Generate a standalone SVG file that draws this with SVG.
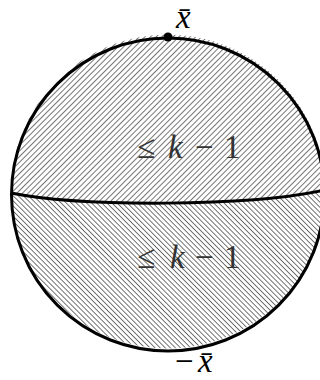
<svg xmlns="http://www.w3.org/2000/svg" width="320" height="380" viewBox="0 0 320 380">
<style>
.lbl{font-family:"Liberation Serif","Times New Roman",serif;font-size:33px;fill:#333}
.it{font-style:italic}
.edge{fill:none;stroke:#000;stroke-width:3}
</style>
<defs>
<pattern id="hatchUp" width="4" height="4" patternUnits="userSpaceOnUse" patternTransform="rotate(45)">
<line x1="0" y1="0" x2="0" y2="4" stroke="#3a3a3a" stroke-width="1.4"/>
</pattern>
<pattern id="hatchDown" width="3.6" height="3.6" patternUnits="userSpaceOnUse" patternTransform="rotate(-45)">
<line x1="0" y1="0" x2="0" y2="3.6" stroke="#3a3a3a" stroke-width="1.4"/>
</pattern>
</defs>
<rect width="320" height="380" fill="#fff"/>
<g id="upper">
<path d="M 11 193 C 80 207, 250 207, 325 190 A 156.5 156.5 0 0 0 11 193 Z" fill="url(#hatchUp)"/>
<text class="lbl" y="158"><tspan x="137">≤</tspan><tspan class="it" x="168">k</tspan><tspan x="195">−</tspan><tspan x="224">1</tspan></text>
</g>
<g id="lower">
<path d="M 11 193 C 80 207, 250 207, 325 190 A 156.5 156.5 0 1 1 11 193 Z" fill="url(#hatchDown)"/>
<text class="lbl" y="268"><tspan x="137">≤</tspan><tspan class="it" x="170">k</tspan><tspan x="195">−</tspan><tspan x="224">1</tspan></text>
</g>
<g id="connectors">
<circle class="edge" cx="168" cy="194.5" r="156.5"/>
<path class="edge" d="M 11 193 C 80 207, 250 207, 325 190"/>
</g>
<g id="north">
<circle cx="168" cy="37" r="4.5" fill="#000"/>
<text class="lbl it" x="176" y="28" style="fill:#000">x̄</text>
</g>
<g id="south">
<text class="lbl" x="175" y="372" style="fill:#000">−<tspan class="it" x="198">x̄</tspan></text>
</g>
</svg>
